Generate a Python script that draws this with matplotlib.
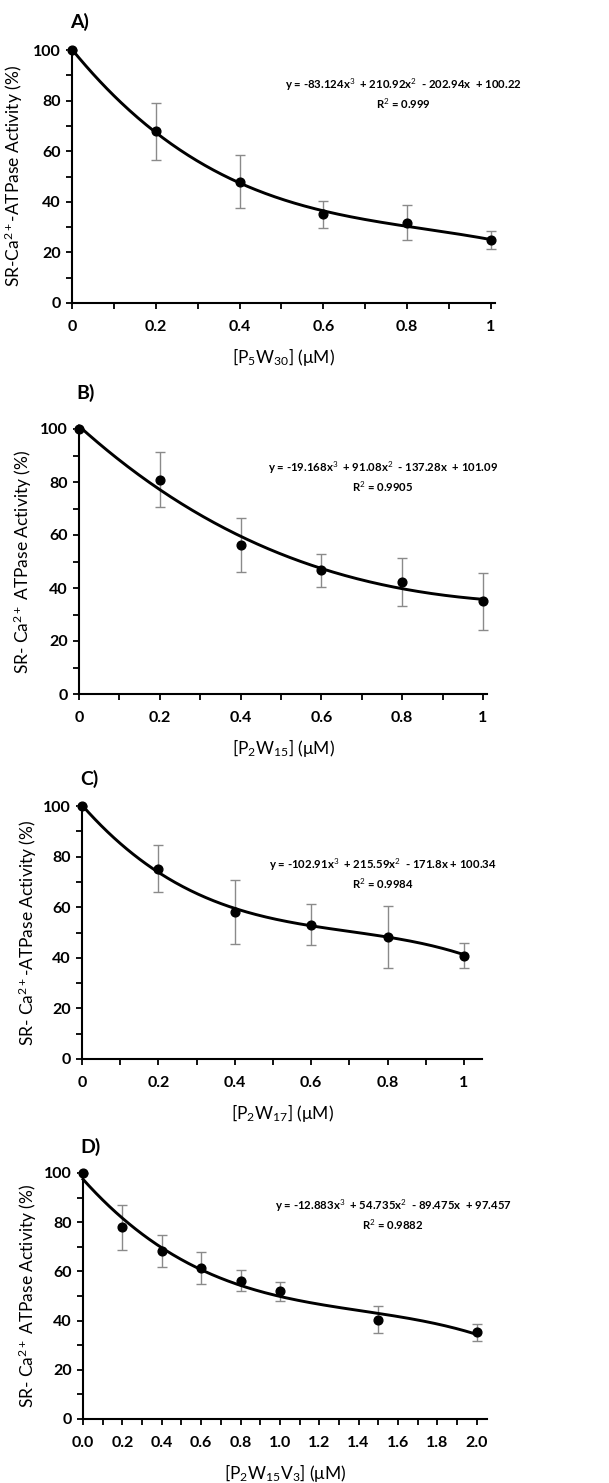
import numpy as np
import matplotlib
matplotlib.use("Agg")
import matplotlib.pyplot as plt
from matplotlib.ticker import MultipleLocator, FixedLocator

plt.rcParams['font.family'] = ['Lato', 'DejaVu Sans']
plt.rcParams['mathtext.fontset'] = 'custom'
plt.rcParams['mathtext.rm'] = 'Lato'
plt.rcParams['mathtext.it'] = 'Lato:italic'
plt.rcParams['mathtext.bf'] = 'Lato:bold'

# ---------------- data ----------------
xA = [0, 0.2, 0.4, 0.6, 0.8, 1.0]
yA = [100, 67.8, 48.0, 35.1, 31.8, 24.8]
eA = [0, 11.4, 10.6, 5.4, 7.0, 3.6]
cA = [-83.124, 210.92, -202.94, 100.22]

xB = [0, 0.2, 0.4, 0.6, 0.8, 1.0]
yB = [100, 80.9, 56.3, 46.7, 42.3, 35.0]
eB = [0, 10.5, 10.3, 6.2, 9.0, 10.8]
cB = [-19.168, 91.08, -137.28, 101.09]

xC = [0, 0.2, 0.4, 0.6, 0.8, 1.0]
yC = [100, 75.2, 58.1, 53.0, 48.2, 40.9]
eC = [0, 9.2, 12.8, 8.1, 12.2, 5.0]
cC = [-102.91, 215.59, -171.8, 100.34]

xD = [0, 0.2, 0.4, 0.6, 0.8, 1.0, 1.5, 2.0]
yD = [100, 77.9, 68.3, 61.5, 56.2, 51.9, 40.4, 35.2]
eD = [0, 9.0, 6.4, 6.5, 4.3, 3.8, 5.4, 3.6]
cD = [-12.883, 54.735, -89.475, 97.457]

eqA = "y = -83.124x$^3$  + 210.92x$^2$  - 202.94x  + 100.22"
eqB = "y = -19.168x$^3$  + 91.08x$^2$  - 137.28x  + 101.09"
eqC = "y = -102.91x$^3$  + 215.59x$^2$  - 171.8x + 100.34"
eqD = "y = -12.883x$^3$  + 54.735x$^2$  - 89.475x  + 97.457"
r2A, r2B, r2C, r2D = "R$^2$ = 0.999", "R$^2$ = 0.9905", "R$^2$ = 0.9984", "R$^2$ = 0.9882"

xlabA = "[P$_5$W$_{30}$] (μM)"
xlabB = "[P$_2$W$_{15}$] (μM)"
xlabC = "[P$_2$W$_{17}$] (μM)"
xlabD = "[P$_2$W$_{15}$V$_3$] (μM)"
ylabA = "SR-Ca$^{2+}$-ATPase Activity (%)"
ylabB = "SR- Ca$^{2+}$ ATPase Activity (%)"
ylabC = "SR- Ca$^{2+}$-ATPase Activity (%)"
ylabD = "SR- Ca$^{2+}$ ATPase Activity (%)"

xticksA = [0, 0.2, 0.4, 0.6, 0.8, 1.0]
xtlA = ["0", "0.2", "0.4", "0.6", "0.8", "1"]
xticksD = [0, 0.2, 0.4, 0.6, 0.8, 1.0, 1.2, 1.4, 1.6, 1.8, 2.0]
xtlD = ["0.0", "0.2", "0.4", "0.6", "0.8", "1.0", "1.2", "1.4", "1.6", "1.8", "2.0"]

W, H = 609, 1483
fig = plt.figure(figsize=(W / 100, H / 100), dpi=100)


def panel(box, letter, x, y, e, coef, eq, r2, xlab, ylab, xticks, xtl, xmax,
          eqx, eqy, letpos, ylabx):
    l, r, t, b = box
    ax = fig.add_axes([l / W, 1 - b / H, (r - l) / W, (b - t) / H])
    xs = np.linspace(0, max(x), 300)
    ax.plot(xs, np.polyval(coef, xs), color='black', lw=2.1, zorder=3, clip_on=False)
    ax.errorbar(x, y, yerr=e, fmt='none', ecolor='#8a8a8a', elinewidth=1.0,
                capsize=3.3, capthick=1.0, zorder=2, clip_on=False)
    ax.plot(x, y, 'o', color='black', ms=6.3, zorder=4, clip_on=False)
    ax.set_xlim(0, xmax)
    ax.set_ylim(0, 100)
    for s in ['top', 'right']:
        ax.spines[s].set_visible(False)
    for s in ['left', 'bottom']:
        ax.spines[s].set_linewidth(1.5)
    ax.xaxis.set_major_locator(FixedLocator(xticks))
    ax.set_xticklabels(xtl, fontsize=11.5, fontweight='bold')
    ax.xaxis.set_minor_locator(MultipleLocator(0.1))
    ax.yaxis.set_major_locator(MultipleLocator(20))
    ax.yaxis.set_minor_locator(MultipleLocator(10))
    ax.set_yticks([0, 20, 40, 60, 80, 100])
    ax.set_yticklabels(["0", "20", "40", "60", "80", "100"], fontsize=11.5, fontweight='bold')
    ax.tick_params(which='both', direction='out', length=4, width=1.3, color='black')
    ax.tick_params(axis='x', which='major', pad=8)
    ax.tick_params(axis='y', which='major', pad=4)
    ax.set_xlabel(xlab, fontsize=12.5, labelpad=9)
    ax.set_ylabel(ylab, fontsize=12.5)
    ax.yaxis.set_label_coords(ylabx, 0.5)
    fig.text(eqx / W, 1 - eqy / H, eq, fontsize=8.2, fontweight='bold', ha='center', va='center')
    fig.text(eqx / W, 1 - (eqy + 19) / H, r2, fontsize=8.2, fontweight='bold', ha='center', va='center')
    fig.text(letpos[0] / W, 1 - letpos[1] / H, letter, fontsize=14, fontweight='bold',
             ha='left', va='center')
    return ax


panel((72, 495, 50, 303), "A)", xA, yA, eA, cA, eqA, r2A, xlabA, ylabA,
      xticksA, xtlA, 1.01, 403, 85, (70, 22), -0.111)
panel((79, 487, 429, 694), "B)", xB, yB, eB, cB, eqB, r2B, xlabB, ylabB,
      xticksA, xtlA, 1.01, 383, 468, (76, 393), -0.110)
panel((82, 482, 806, 1059), "C)", xC, yC, eC, cC, eqC, r2C, xlabC, ylabC,
      xticksA, xtlA, 1.047, 383, 865, (80, 779), -0.108)
panel((83, 487, 1173, 1419), "D)", xD, yD, eD, cD, eqD, r2D, xlabD, ylabD,
      xticksD, xtlD, 2.052, 393, 1206, (80, 1147), -0.109)

fig.savefig("out.png", dpi=100, facecolor='white')
